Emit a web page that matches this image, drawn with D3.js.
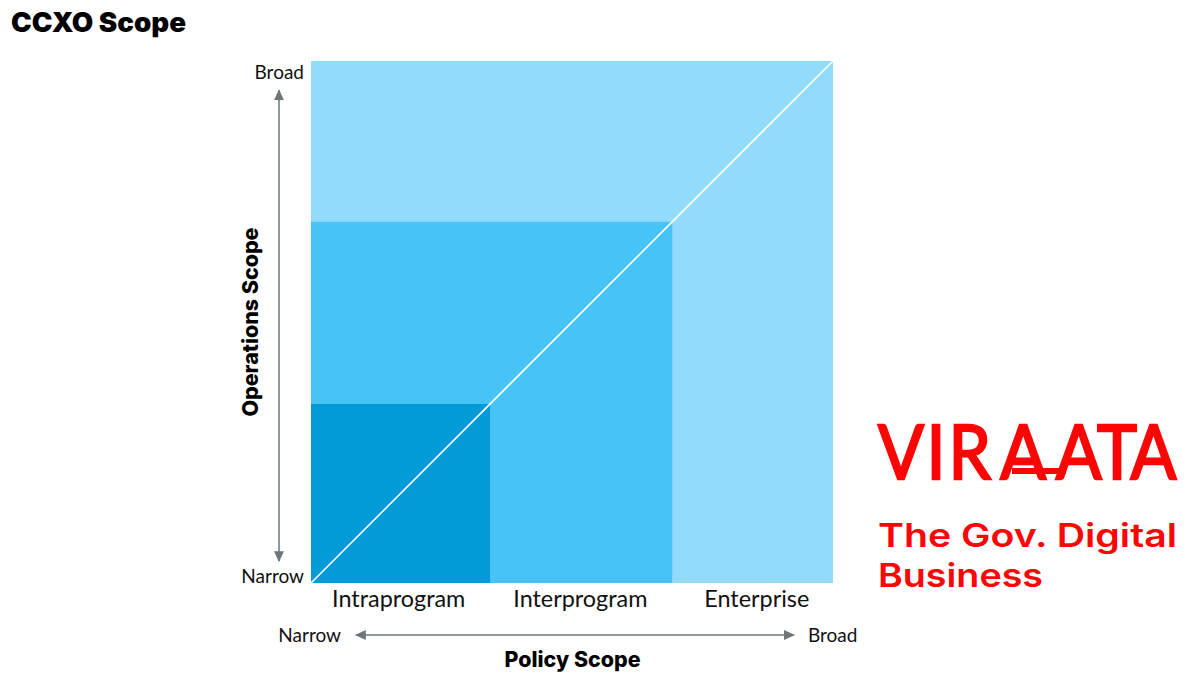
<!DOCTYPE html>
<html>
<head>
<meta charset="utf-8">
<script src="https://cdn.jsdelivr.net/npm/d3@7"></script>
<style>
  html, body { margin: 0; padding: 0; background: #fff; }
  text { font-family: "Lato", "Open Sans", sans-serif; fill: #111; }
  .bold { font-family: "Inter", "Lato", sans-serif; font-weight: 800; fill: #000; }
  .red { fill: #fb0505; }
</style>
</head>
<body>
<svg id="chart" width="1200" height="675"></svg>
<script>
// nested scope squares, outermost first
var scopeEdges = [100, 69.2, 34.3];
var scopeColors = ["#92dbfa", "#48c3f5", "#029bd8"];
var policyLabels = ["Intraprogram", "Interprogram", "Enterprise"];
var policyLabelPos = [16.8, 51.6, 85.4];
var axisEnds = ["Narrow", "Broad"];

var svg = d3.select("#chart");

var x = d3.scaleLinear().domain([0, 100]).range([311, 833]);
var y = d3.scaleLinear().domain([0, 100]).range([583, 61]);

svg.append("defs").append("marker")
  .attr("id", "arrow")
  .attr("viewBox", "0 0 10 10")
  .attr("refX", 9).attr("refY", 5)
  .attr("markerUnits", "userSpaceOnUse")
  .attr("markerWidth", 11).attr("markerHeight", 11)
  .attr("orient", "auto-start-reverse")
  .append("path")
  .attr("d", "M0,0.5L10,5L0,9.5Z")
  .attr("fill", "#6f7678");

svg.append("text").attr("class", "bold")
  .attr("x", 11).attr("y", 32)
  .attr("font-size", 27)
  .style("font-weight", 900)
  .attr("textLength", 175)
  .attr("lengthAdjust", "spacingAndGlyphs")
  .text("CCXO Scope");

svg.selectAll("rect.scope")
  .data(scopeEdges)
  .enter().append("rect")
  .attr("class", "scope")
  .attr("x", x(0))
  .attr("y", function(d) { return y(d); })
  .attr("width", function(d) { return x(d) - x(0); })
  .attr("height", function(d) { return y(0) - y(d); })
  .attr("fill", function(d, i) { return scopeColors[i]; });

// diagonal
svg.append("line")
  .attr("x1", x(0)).attr("y1", y(0))
  .attr("x2", x(100)).attr("y2", y(100))
  .attr("stroke", "#fff")
  .attr("stroke-width", 1.6);

// column labels
svg.selectAll("text.policy")
  .data(policyLabels)
  .enter().append("text")
  .attr("class", "policy")
  .attr("x", function(d, i) { return x(policyLabelPos[i]); })
  .attr("y", 607)
  .attr("text-anchor", "middle")
  .attr("font-size", 23.4)
  .text(function(d) { return d; });

// y axis ends and arrow
svg.append("text").attr("x", 304).attr("y", 79).attr("text-anchor", "end")
  .attr("font-size", 19).text(axisEnds[1]);
svg.append("text").attr("x", 304).attr("y", 583).attr("text-anchor", "end")
  .attr("font-size", 19).text(axisEnds[0]);
svg.append("line")
  .attr("x1", 279).attr("y1", y(4.2))
  .attr("x2", 279).attr("y2", y(94.4))
  .attr("stroke", "#6f7678").attr("stroke-width", 1.5)
  .attr("marker-start", "url(#arrow)")
  .attr("marker-end", "url(#arrow)");
svg.append("text").attr("class", "bold")
  .attr("transform", "translate(258,322) rotate(-90)")
  .attr("text-anchor", "middle")
  .attr("font-size", 21.5)
  .attr("textLength", 189)
  .attr("lengthAdjust", "spacingAndGlyphs")
  .text("Operations Scope");

// x axis ends and arrow
svg.append("text").attr("x", 341).attr("y", 642).attr("text-anchor", "end")
  .attr("font-size", 19).text(axisEnds[0]);
svg.append("text").attr("x", 808).attr("y", 642)
  .attr("font-size", 19).text(axisEnds[1]);
svg.append("line")
  .attr("x1", x(8.6)).attr("y1", 635)
  .attr("x2", x(92.5)).attr("y2", 635)
  .attr("stroke", "#6f7678").attr("stroke-width", 1.5)
  .attr("marker-start", "url(#arrow)")
  .attr("marker-end", "url(#arrow)");
svg.append("text").attr("class", "bold")
  .attr("x", 572.5).attr("y", 667)
  .attr("text-anchor", "middle")
  .attr("font-size", 21)
  .attr("textLength", 136)
  .attr("lengthAdjust", "spacingAndGlyphs")
  .text("Policy Scope");

// logo, letters spaced by hand to follow the wordmark
svg.append("text").attr("class", "red")
  .attr("transform", "translate(878,479) scale(0.88,0.98)")
  .attr("x", "0 55 80 139 202 249 287")
  .attr("y", 0)
  .attr("font-size", 77)
  .style("font-family", "Lato")
  .attr("stroke", "#fb0505")
  .attr("stroke-width", 2.4)
  .text("VIRAATA");
svg.append("rect")
  .attr("x", 1012).attr("y", 468)
  .attr("width", 54).attr("height", 6)
  .attr("fill", "#fb0505");
svg.append("text").attr("class", "red")
  .attr("x", 878).attr("y", 547)
  .attr("font-size", 33)
  .style("font-family", "Inter")
  .style("font-weight", 600)
  .attr("textLength", 299)
  .attr("lengthAdjust", "spacingAndGlyphs")
  .text("The Gov. Digital");
svg.append("text").attr("class", "red")
  .attr("x", 878).attr("y", 587)
  .attr("font-size", 33)
  .style("font-family", "Inter")
  .style("font-weight", 600)
  .attr("textLength", 165)
  .attr("lengthAdjust", "spacingAndGlyphs")
  .text("Business");
</script>
</body>
</html>
